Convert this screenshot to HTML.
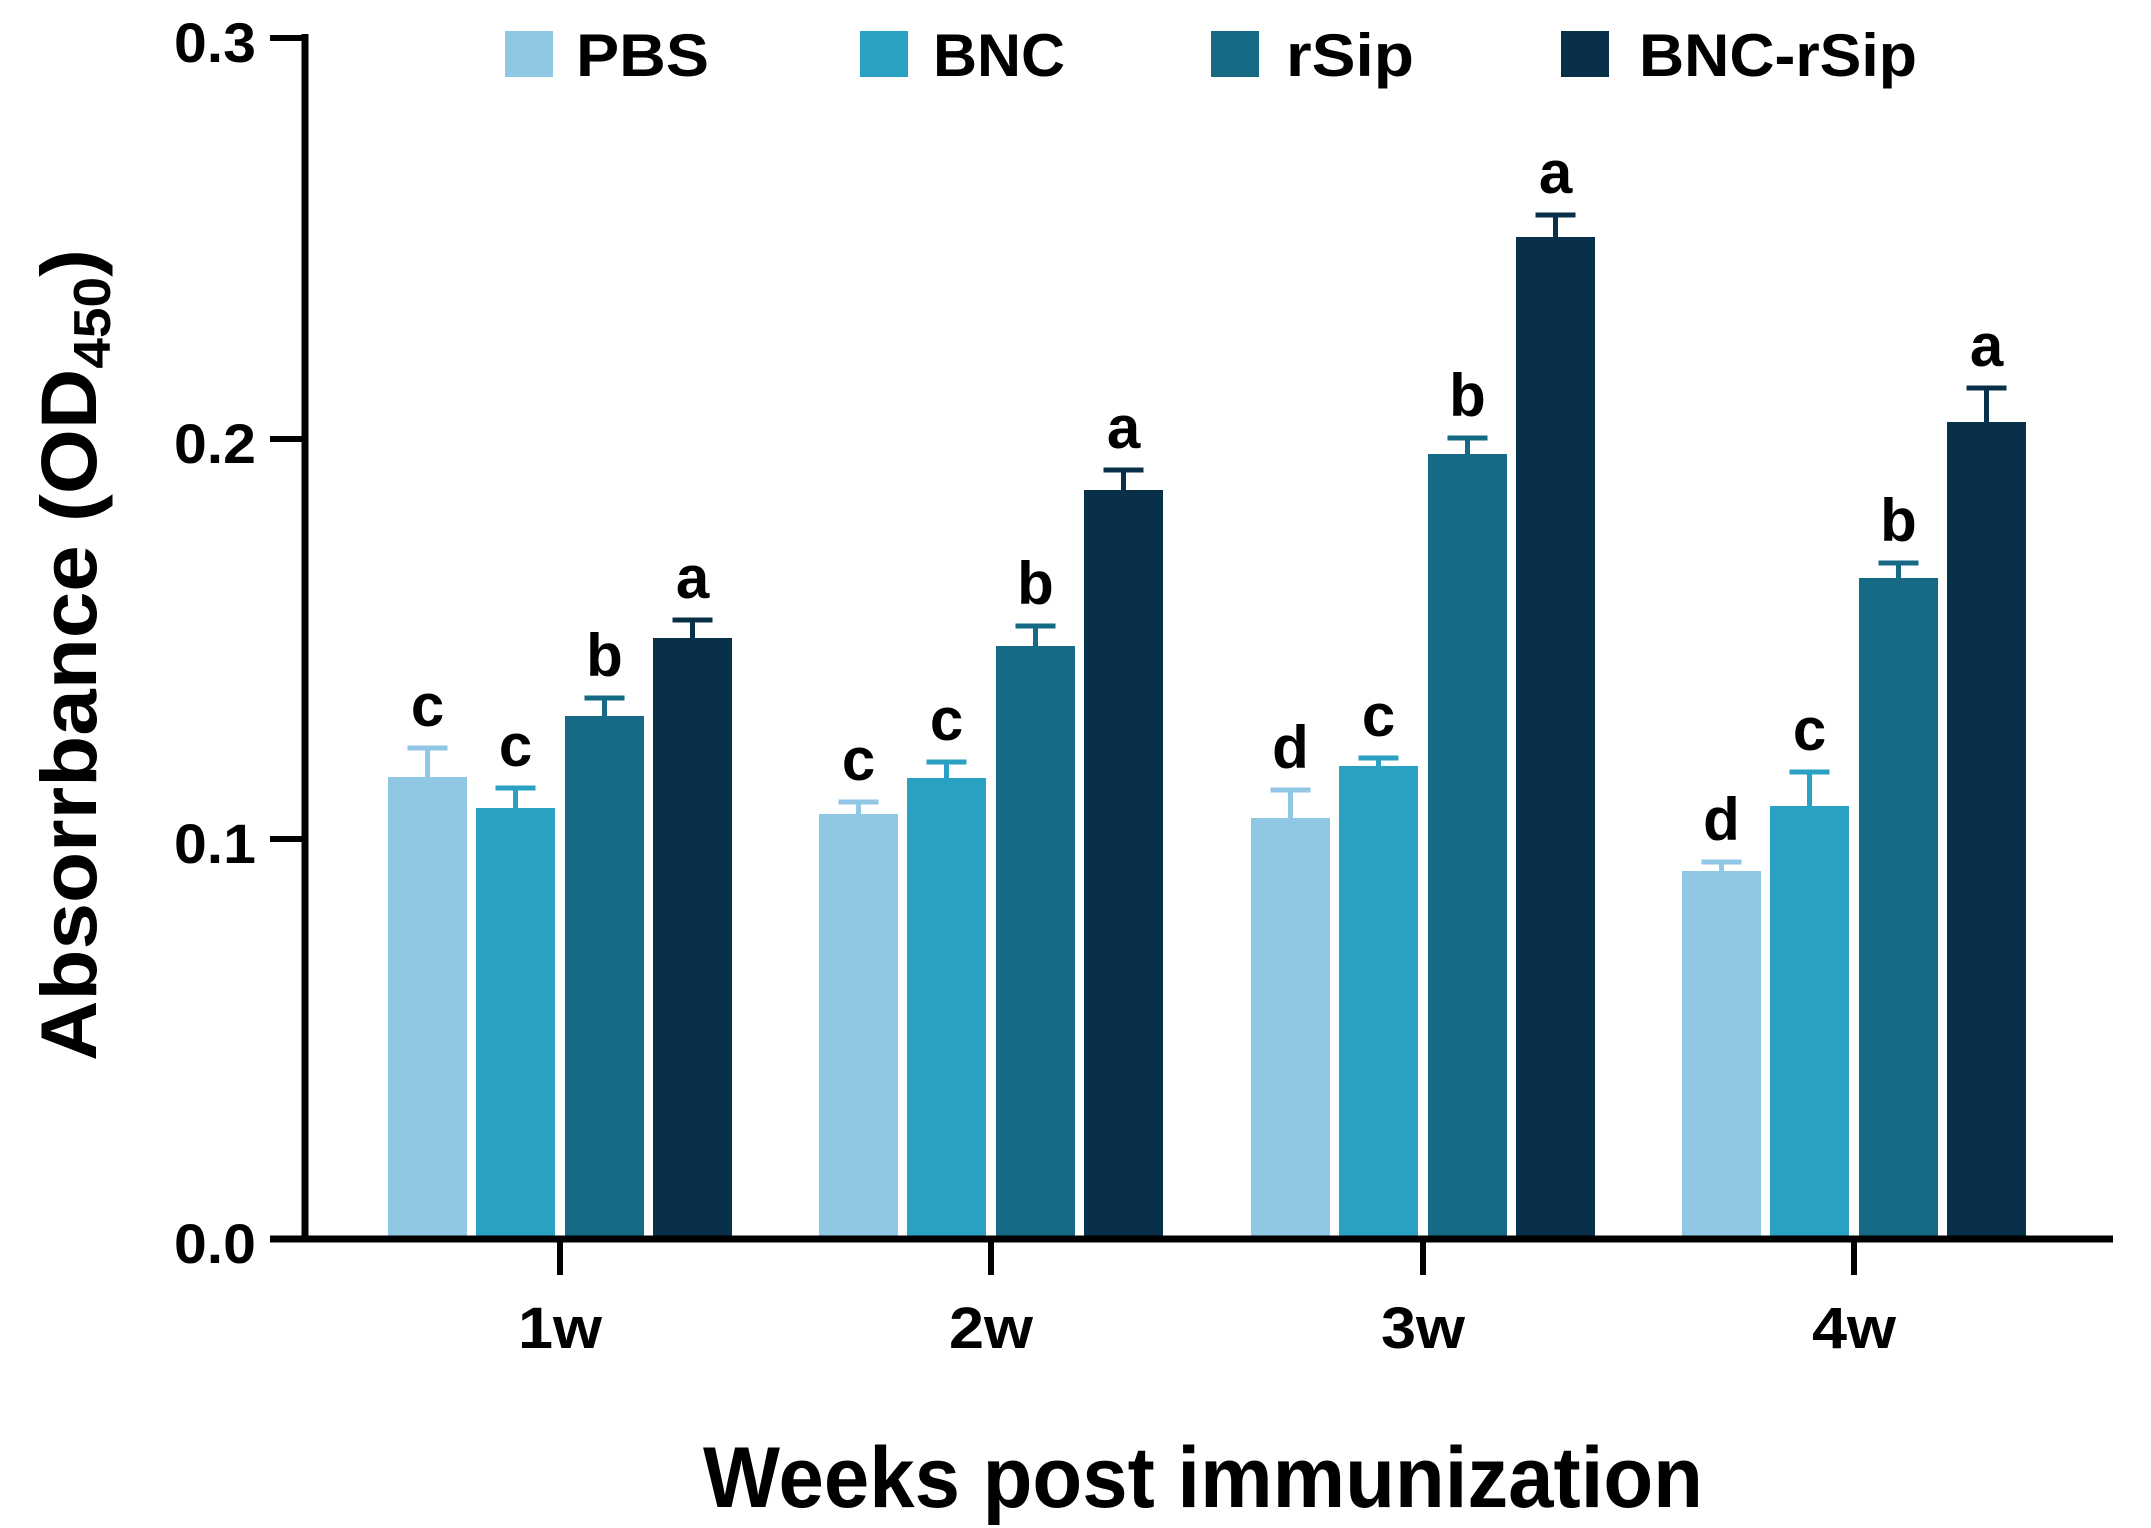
<!DOCTYPE html>
<html><head><meta charset="utf-8"><style>html,body{margin:0;padding:0;background:#fff}svg{display:block}</style></head>
<body>
<svg width="2151" height="1528" viewBox="0 0 2151 1528" xmlns="http://www.w3.org/2000/svg" font-family="Liberation Sans, Arial, sans-serif" font-weight="bold">
<rect width="2151" height="1528" fill="#fff"/>
<g>
<rect x="388" y="777" width="79" height="459" fill="#8fc7e5"/>
<rect x="476" y="808" width="79" height="428" fill="#2aa0c2"/>
<rect x="565" y="716" width="79" height="520" fill="#176a86"/>
<rect x="653" y="638" width="79" height="598" fill="#083149"/>
<rect x="819" y="814" width="79" height="422" fill="#8fc7e5"/>
<rect x="907" y="778" width="79" height="458" fill="#2aa0c2"/>
<rect x="996" y="646" width="79" height="590" fill="#176a86"/>
<rect x="1084" y="490" width="79" height="746" fill="#083149"/>
<rect x="1251" y="818" width="79" height="418" fill="#8fc7e5"/>
<rect x="1339" y="766" width="79" height="470" fill="#2aa0c2"/>
<rect x="1428" y="454" width="79" height="782" fill="#176a86"/>
<rect x="1516" y="237" width="79" height="999" fill="#083149"/>
<rect x="1682" y="871" width="79" height="365" fill="#8fc7e5"/>
<rect x="1770" y="806" width="79" height="430" fill="#2aa0c2"/>
<rect x="1859" y="578" width="79" height="658" fill="#176a86"/>
<rect x="1947" y="422" width="79" height="814" fill="#083149"/>
</g>
<g stroke-width="5" fill="none">
<path d="M427.5 777V748M407.5 748H447.5" stroke="#8fc7e5"/>
<path d="M515.5 808V788M495.5 788H535.5" stroke="#2aa0c2"/>
<path d="M604.5 716V698M584.5 698H624.5" stroke="#176a86"/>
<path d="M692.5 638V620M672.5 620H712.5" stroke="#083149"/>
<path d="M858.5 814V802M838.5 802H878.5" stroke="#8fc7e5"/>
<path d="M946.5 778V762M926.5 762H966.5" stroke="#2aa0c2"/>
<path d="M1035.5 646V626M1015.5 626H1055.5" stroke="#176a86"/>
<path d="M1123.5 490V470M1103.5 470H1143.5" stroke="#083149"/>
<path d="M1290.5 818V790M1270.5 790H1310.5" stroke="#8fc7e5"/>
<path d="M1378.5 766V758M1358.5 758H1398.5" stroke="#2aa0c2"/>
<path d="M1467.5 454V438M1447.5 438H1487.5" stroke="#176a86"/>
<path d="M1555.5 237V215M1535.5 215H1575.5" stroke="#083149"/>
<path d="M1721.5 871V862M1701.5 862H1741.5" stroke="#8fc7e5"/>
<path d="M1809.5 806V772M1789.5 772H1829.5" stroke="#2aa0c2"/>
<path d="M1898.5 578V563M1878.5 563H1918.5" stroke="#176a86"/>
<path d="M1986.5 422V388M1966.5 388H2006.5" stroke="#083149"/>
</g>
<g font-size="60" text-anchor="middle">
<text x="427.5" y="726">c</text><text x="515.5" y="766">c</text><text x="604.5" y="676">b</text><text x="692.5" y="598">a</text>
<text x="858.5" y="780">c</text><text x="946.5" y="740">c</text><text x="1035.5" y="604">b</text><text x="1123.5" y="448">a</text>
<text x="1290.5" y="768">d</text><text x="1378.5" y="736">c</text><text x="1467.5" y="416">b</text><text x="1555.5" y="193">a</text>
<text x="1721.5" y="840">d</text><text x="1809.5" y="750">c</text><text x="1898.5" y="541">b</text><text x="1986.5" y="366">a</text>
</g>
<line x1="305" y1="34" x2="305" y2="1242" stroke="#000" stroke-width="7"/>
<line x1="270" y1="1239" x2="2113" y2="1239" stroke="#000" stroke-width="7"/>
<g stroke="#000" stroke-width="6">
<line x1="270" y1="38" x2="305" y2="38"/>
<line x1="270" y1="439" x2="305" y2="439"/>
<line x1="270" y1="839" x2="305" y2="839"/>
<line x1="560" y1="1239" x2="560" y2="1275"/>
<line x1="991" y1="1239" x2="991" y2="1275"/>
<line x1="1423" y1="1239" x2="1423" y2="1275"/>
<line x1="1854" y1="1239" x2="1854" y2="1275"/>
</g>
<g font-size="56" text-anchor="end">
<text x="256" y="62" textLength="82" lengthAdjust="spacingAndGlyphs">0.3</text>
<text x="256" y="463" textLength="82" lengthAdjust="spacingAndGlyphs">0.2</text>
<text x="256" y="863" textLength="82" lengthAdjust="spacingAndGlyphs">0.1</text>
<text x="256" y="1263" textLength="82" lengthAdjust="spacingAndGlyphs">0.0</text>
</g>
<g font-size="58" text-anchor="middle">
<text x="560" y="1348" textLength="84" lengthAdjust="spacingAndGlyphs">1w</text>
<text x="991" y="1348" textLength="84" lengthAdjust="spacingAndGlyphs">2w</text>
<text x="1423" y="1348" textLength="84" lengthAdjust="spacingAndGlyphs">3w</text>
<text x="1854" y="1348" textLength="84" lengthAdjust="spacingAndGlyphs">4w</text>
</g>
<text x="703" y="1507" font-size="86" textLength="1000" lengthAdjust="spacingAndGlyphs">Weeks post immunization</text>
<text transform="translate(96,1061) rotate(-90)" font-size="79" textLength="812" lengthAdjust="spacingAndGlyphs">Absorrbance (OD<tspan font-size="52" dy="14">450</tspan><tspan dy="-14">)</tspan></text>
<rect x="505" y="31" width="48" height="46" fill="#8fc7e5"/>
<text x="576" y="76" font-size="60" textLength="133" lengthAdjust="spacingAndGlyphs">PBS</text>
<rect x="860" y="31" width="48" height="46" fill="#2aa0c2"/>
<text x="933" y="76" font-size="60" textLength="132" lengthAdjust="spacingAndGlyphs">BNC</text>
<rect x="1211" y="31" width="48" height="46" fill="#176a86"/>
<text x="1286" y="76" font-size="60" textLength="128" lengthAdjust="spacingAndGlyphs">rSip</text>
<rect x="1561" y="31" width="48" height="46" fill="#083149"/>
<text x="1639" y="76" font-size="60" textLength="278" lengthAdjust="spacingAndGlyphs">BNC-rSip</text>
</svg>
</body></html>
